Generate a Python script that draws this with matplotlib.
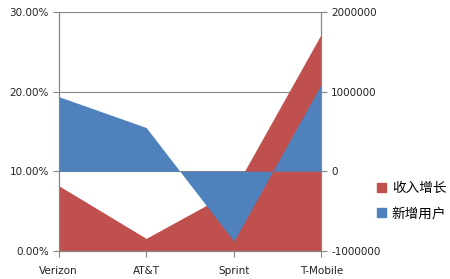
import numpy as np
import matplotlib
matplotlib.use('Agg')
from matplotlib import pyplot as plt
from matplotlib.patches import Patch

carriers = ['Verizon', 'AT&T', 'Sprint', 'T-Mobile']
revenue_growth = [8.2, 1.55, 7.6, 27.3]          # percent, left axis
new_users = [940000, 550000, -880000, 1100000]    # right axis

left_ticks = [0, 10, 20, 30]
right_ticks = [-1000000, 0, 1000000, 2000000]

red = '#C0504D'
blue = '#4F81BD'
grey = '#868686'

plt.rcParams['font.family'] = ['DejaVu Sans']
plt.rcParams['font.size'] = 7.5

fig = plt.figure(figsize=(4.5, 2.79), dpi=100)
ax = fig.add_axes([0.13, 0.1014, 0.5844, 0.8546])
x = np.arange(len(carriers))

ax.fill_between(x, 0, revenue_growth, color=red, linewidth=0, zorder=1)
ax.set_xlim(0, len(carriers) - 1)
ax.set_ylim(0, 30)
ax.set_yticks(left_ticks)
ax.set_yticklabels(['%.2f%%' % t for t in left_ticks])
ax.set_xticks(x)
ax.set_xticklabels(carriers)
ax.yaxis.grid(True, color=grey, linewidth=0.8)
ax.set_axisbelow(True)

ax2 = ax.twinx()
ax2.fill_between(x, 0, new_users, color=blue, linewidth=0, zorder=2)
ax2.set_ylim(-1000000, 2000000)
ax2.set_yticks(right_ticks)
ax2.set_yticklabels([str(t) for t in right_ticks])

for a in (ax, ax2):
    for side in ('left', 'right', 'bottom'):
        a.spines[side].set_color(grey)
        a.spines[side].set_linewidth(0.8)
    a.spines['top'].set_visible(False)
    a.tick_params(colors=grey, labelcolor='#222222', length=4, width=0.8, pad=3)
ax.tick_params(axis='x', pad=7)

handles = [Patch(color=red, label='收入增长'), Patch(color=blue, label='新增用户')]
fig.legend(handles=handles, loc='center left', bbox_to_anchor=(0.81, 0.281),
           frameon=False, handlelength=0.7, handleheight=0.7, handletextpad=0.4,
           labelspacing=0.8, prop={'family': ['Noto Sans CJK SC', 'DejaVu Sans'], 'size': 9.8})

fig.savefig('out.png', dpi=100)
